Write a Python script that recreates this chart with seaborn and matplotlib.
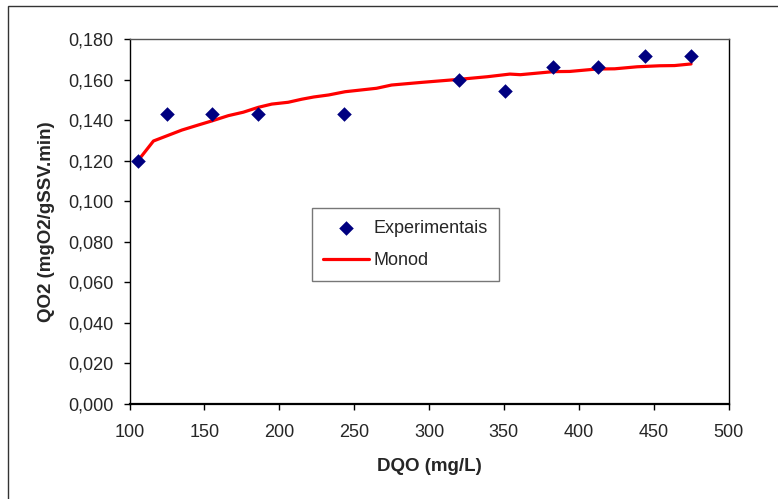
import matplotlib
matplotlib.use("Agg")
import matplotlib.pyplot as plt
from matplotlib.ticker import FuncFormatter, MultipleLocator
from matplotlib.patches import Rectangle
import seaborn as sns
import pandas as pd

# experimental points
dqo_exp = [106, 125, 155, 186, 243, 320, 351, 383, 413, 444, 475]
qo2_exp = [0.120, 0.143, 0.143, 0.143, 0.143, 0.160, 0.1545, 0.166, 0.166, 0.1715, 0.1715]

# Monod curve
dqo_monod = [106, 116, 135, 146, 155, 166, 176, 186, 195, 206, 215, 223, 233,
             244, 265, 275, 295, 320, 339, 354, 361, 383, 394, 412, 424, 439,
             454, 464, 475]
qo2_monod = [0.1203, 0.1297, 0.1351, 0.1376, 0.1396, 0.1422, 0.1439, 0.1463,
             0.1479, 0.1488, 0.1503, 0.1514, 0.1524, 0.1540, 0.1557, 0.1573,
             0.1586, 0.1601, 0.1614, 0.1627, 0.1624, 0.1639, 0.1640, 0.1652,
             0.1653, 0.1663, 0.1668, 0.1669, 0.1677]

sns.set_style("white")
plt.rcParams['font.family'] = ['Liberation Sans', 'DejaVu Sans']

df_exp = pd.DataFrame({'DQO': dqo_exp, 'QO2': qo2_exp})
df_mon = pd.DataFrame({'DQO': dqo_monod, 'QO2': qo2_monod})

fig = plt.figure(figsize=(7.78, 4.99), dpi=100)
W, H = 778, 499
ax = fig.add_axes([129.5 / W, 1 - 404 / H, (728.5 - 129.5) / W, (404 - 39) / H])

sns.scatterplot(data=df_exp, x='DQO', y='QO2', ax=ax, marker='D', s=55,
                color='#000080', edgecolor='#000080', linewidth=0,
                label='Experimentais', zorder=3)
sns.lineplot(data=df_mon, x='DQO', y='QO2', ax=ax, color='#ff0000',
             linewidth=2.3, label='Monod', zorder=2)

ax.set_xlim(100, 500)
ax.set_ylim(0, 0.180)
ax.xaxis.set_major_locator(MultipleLocator(50))
ax.yaxis.set_major_locator(MultipleLocator(0.02))
ax.yaxis.set_major_formatter(FuncFormatter(lambda v, p: f"{v:.3f}".replace('.', ',')))

ax.tick_params(axis='both', direction='out', length=4.3, width=1, color='black',
               labelsize=13, left=True, bottom=True)
ax.tick_params(axis='x', pad=10)
ax.tick_params(axis='y', pad=7)

for side in ['left', 'right', 'top']:
    ax.spines[side].set_color('black')
    ax.spines[side].set_linewidth(1)
ax.spines['top'].set_color('#555555')
ax.spines['bottom'].set_color('black')
ax.spines['bottom'].set_linewidth(1.6)

ax.set_xlabel('DQO (mg/L)', fontsize=13.5, fontweight='bold', labelpad=12)
ax.set_ylabel('QO2 (mgO2/gSSV.min)', fontsize=13.5, fontweight='bold', labelpad=10)

leg = ax.legend(loc='upper left', bbox_to_anchor=((311.7 - 129.5) / 599, 1 - (208.3 - 39) / 365),
                frameon=True, fancybox=False, fontsize=13, handlelength=2.5,
                borderpad=0.65, labelspacing=0.85, handletextpad=0.25, borderaxespad=0)
leg.get_frame().set_edgecolor('#555555')
leg.get_frame().set_linewidth(1)

# outer chart border
fig.patches.append(Rectangle((8 / W, -0.05), 1.1, 1 - 6 / H + 0.05, transform=fig.transFigure,
                             fill=False, edgecolor='#333333', linewidth=1))

fig.savefig('out.png', dpi=100)
